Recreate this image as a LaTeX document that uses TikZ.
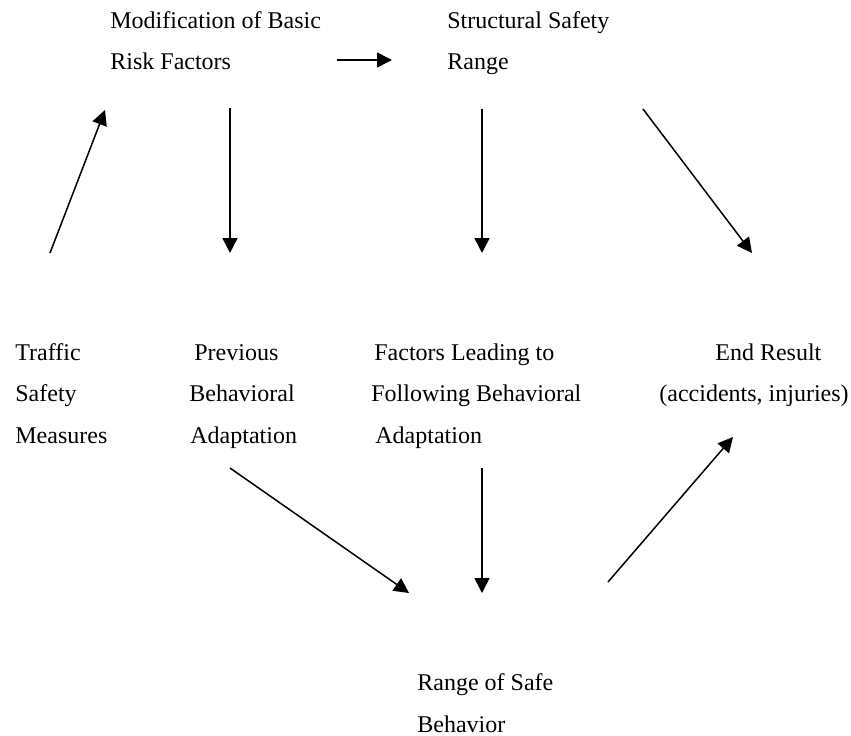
\documentclass[tikz,border=0pt]{standalone}
\usepackage{fontspec}
\setmainfont{Liberation Serif}
\usetikzlibrary{arrows.meta}
\begin{document}
\begin{tikzpicture}[x=0.5pt,y=-0.5pt,
  lbl/.style={anchor=base west,inner sep=0pt,align=left,font=\fontsize{12}{20.75}\selectfont},
  conn/.style={line width=0.75pt,-{Triangle[length=7.5pt,width=7.5pt]}}]
\useasboundingbox (0,0) rectangle (851,735);
% labels (anchor = baseline of last line)
\node[lbl] (mod) at (110,69.5) {Modification of Basic\\Risk Factors};
\node[lbl] (str) at (447,69.5) {Structural Safety\\Range};
\node[lbl] (tsm) at (15,443) {Traffic\\Safety\\Measures};
\node[lbl] (prev) at (189,443) {\hspace*{2.5pt}Previous\\Behavioral\\\hspace*{0.5pt}Adaptation};
\node[lbl] (fac) at (371,443) {\hspace*{1.5pt}Factors Leading to\\Following Behavioral\\\hspace*{2pt}Adaptation};
\node[lbl] (end) at (659,401.5) {\hspace*{28pt}End Result\\(accidents, injuries)};
\node[lbl] (safe) at (417,732) {Range of Safe\\Behavior};
% connector end points
\coordinate (tsmT) at (50,253);
\coordinate (modL) at (105,110);
\coordinate (modR) at (337,60);
\coordinate (strL) at (392,60);
\coordinate (modB) at (230,108);
\coordinate (prevT) at (230,253);
\coordinate (strB) at (482,109);
\coordinate (facT) at (482,253);
\coordinate (strBR) at (643,109);
\coordinate (endT) at (752,253);
\coordinate (prevB) at (230,468);
\coordinate (safeL) at (409,593);
\coordinate (facB) at (482,468);
\coordinate (safeT) at (482,593);
\coordinate (safeR) at (608,582);
\coordinate (endB) at (733,437);
% connectors
\draw[conn] (tsmT) -- (modL);
\draw[conn] (modR) -- (strL);
\draw[conn] (modB) -- (prevT);
\draw[conn] (strB) -- (facT);
\draw[conn] (strBR) -- (endT);
\draw[conn] (prevB) -- (safeL);
\draw[conn] (facB) -- (safeT);
\draw[conn] (safeR) -- (endB);
\end{tikzpicture}
\end{document}
